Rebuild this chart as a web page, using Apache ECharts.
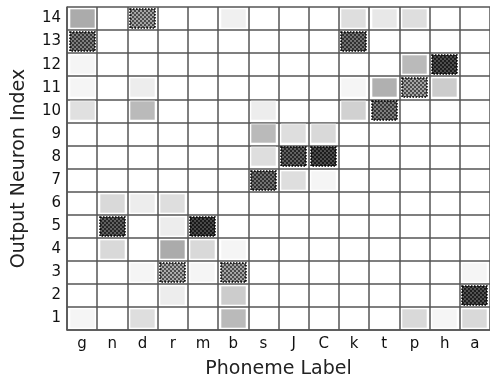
<!DOCTYPE html>
<html lang="en">
<head>
    <meta charset="UTF-8">
    <title>Phoneme map</title>
    <style>
        html, body { margin: 0; padding: 0; background: #fff; }
        #chart { width: 490px; height: 382px; }
    </style>
</head>
<body>
    <div id="chart"></div>
    <script src="https://cdn.jsdelivr.net/npm/echarts@6/dist/echarts.min.js"></script>
    <script>
        var phonemes = ['g', 'n', 'd', 'r', 'm', 'b', 's', 'J', 'C', 'k', 't', 'p', 'h', 'a'];
        var neurons = ['1', '2', '3', '4', '5', '6', '7', '8', '9', '10', '11', '12', '13', '14'];

        // activation per output neuron (rows 14 -> 1), columns follow phonemes
        var activation = [
            [0.33, 0, 0.45, 0, 0, 0.06, 0, 0, 0, 0.13, 0.09, 0.13, 0, 0],
            [0.6, 0, 0, 0, 0, 0, 0, 0, 0, 0.65, 0, 0, 0, 0],
            [0.04, 0, 0, 0, 0, 0, 0, 0, 0, 0, 0, 0.27, 0.8, 0],
            [0.04, 0, 0.07, 0, 0, 0, 0, 0, 0, 0.04, 0.31, 0.45, 0.2, 0],
            [0.12, 0, 0.27, 0, 0, 0, 0.07, 0, 0, 0.18, 0.6, 0, 0, 0],
            [0, 0, 0, 0, 0, 0, 0.27, 0.13, 0.15, 0, 0, 0, 0, 0],
            [0, 0, 0, 0, 0, 0, 0.13, 0.72, 0.8, 0, 0, 0, 0, 0],
            [0, 0, 0, 0, 0, 0, 0.65, 0.13, 0.04, 0, 0, 0, 0, 0],
            [0, 0.15, 0.07, 0.13, 0, 0, 0, 0, 0, 0, 0, 0, 0, 0],
            [0, 0.72, 0, 0.07, 0.82, 0, 0, 0, 0, 0, 0, 0, 0, 0],
            [0, 0.15, 0, 0.33, 0.15, 0.04, 0, 0, 0, 0, 0, 0, 0, 0],
            [0, 0, 0.04, 0.42, 0.04, 0.45, 0, 0, 0, 0, 0, 0, 0, 0.04],
            [0, 0, 0, 0.07, 0, 0.2, 0, 0, 0, 0, 0, 0, 0, 0.78],
            [0.04, 0, 0.13, 0, 0, 0.27, 0, 0, 0, 0, 0, 0.15, 0.04, 0.15]
        ];
        var winThreshold = 0.4;

        function grayLevel(v) {
            return Math.round(255 * (1 - v));
        }
        function gray(v) {
            var g = grayLevel(v);
            return 'rgb(' + g + ',' + g + ',' + g + ')';
        }
        // dotted cross-hatch tile for winning cells
        function hatch(v) {
            var c = document.createElement('canvas');
            c.width = 4; c.height = 4;
            var ctx = c.getContext('2d');
            var g = Math.min(255, grayLevel(v) + 30);
            ctx.fillStyle = 'rgb(' + g + ',' + g + ',' + g + ')';
            ctx.fillRect(0, 0, 4, 4);
            var d = Math.round(grayLevel(v) * 0.5);
            ctx.fillStyle = 'rgb(' + d + ',' + d + ',' + d + ')';
            ctx.beginPath(); ctx.arc(1, 1, 1.15, 0, Math.PI * 2); ctx.fill();
            ctx.beginPath(); ctx.arc(3, 3, 1.15, 0, Math.PI * 2); ctx.fill();
            return { image: c, repeat: 'repeat' };
        }

        var weak = [], strong = [];
        activation.forEach(function (row, r) {
            var neuron = 13 - r;
            row.forEach(function (v, c) {
                if (v <= 0) return;
                (v > winThreshold ? strong : weak).push([c, neuron, v]);
            });
        });

        function cellRect(params, api) {
            var p = api.coord([api.value(0), api.value(1)]);
            var s = api.size([1, 1]);
            var w = s[0] - 5, h = s[1] - 4;
            return { x: Math.round(p[0] - w / 2), y: Math.round(p[1] - h / 2), width: Math.round(w), height: Math.round(h) };
        }

        var font = 'DejaVu Sans';
        var gridLine = { color: '#555', width: 1.5 };

        var chart = echarts.init(document.getElementById('chart'));
        chart.setOption({
            animation: false,
            grid: { left: 67, top: 7, right: 0, bottom: 52, outerBoundsMode: 'none' },
            xAxis: {
                type: 'category',
                data: phonemes,
                axisTick: { show: false },
                axisLine: { lineStyle: gridLine },
                splitLine: { show: true, lineStyle: gridLine },
                axisLabel: { color: '#111', fontSize: 15, fontFamily: font, margin: 7 },
                name: 'Phoneme Label',
                nameLocation: 'middle',
                nameGap: 30,
                nameTextStyle: { color: '#222', fontSize: 19, fontFamily: font }
            },
            yAxis: {
                type: 'category',
                data: neurons,
                axisTick: { show: false },
                axisLine: { lineStyle: gridLine },
                splitLine: { show: true, lineStyle: gridLine },
                axisLabel: { color: '#111', fontSize: 15, fontFamily: font, margin: 6 },
                name: 'Output Neuron Index',
                nameLocation: 'middle',
                nameGap: 38,
                nameTextStyle: { color: '#222', fontSize: 19, fontFamily: font }
            },
            series: [{
                type: 'custom',
                data: weak,
                renderItem: function (params, api) {
                    var v = api.value(2);
                    return {
                        type: 'rect',
                        shape: cellRect(params, api),
                        style: { fill: gray(v), stroke: 'rgba(255,255,255,0.6)', lineWidth: 1 }
                    };
                }
            }, {
                type: 'custom',
                data: strong,
                renderItem: function (params, api) {
                    var v = api.value(2);
                    return {
                        type: 'rect',
                        shape: cellRect(params, api),
                        style: { fill: hatch(v), stroke: '#000', lineWidth: 1.5, lineDash: [1.5, 1.5] }
                    };
                }
            }]
        });
    </script>
</body>
</html>
